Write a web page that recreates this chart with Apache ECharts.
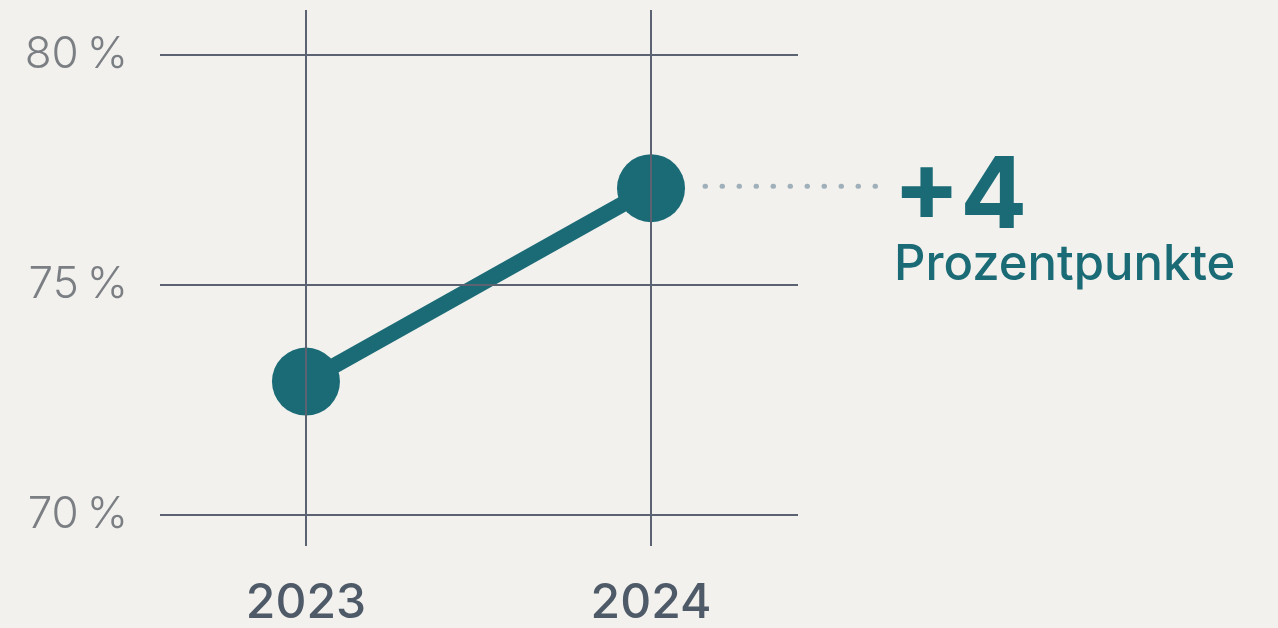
<!DOCTYPE html>
<html>
<head>
<meta charset="utf-8">
<script src="https://cdn.jsdelivr.net/npm/echarts@6/dist/echarts.min.js"></script>
<style>
  html, body { margin: 0; padding: 0; background: #f2f1ed; }
  #chart { width: 1278px; height: 628px; }
</style>
</head>
<body>
<div id="chart"></div>
<script>
// data
const years = [2023, 2024];
const shares = [72.9, 77.1];
const yTicks = [70, 75, 80];
const noteUnit = "Prozentpunkte";

const teal = "#1b6b77";
const gridColor = "#5b6373";
const font = "Inter, 'Noto Sans', sans-serif";

const chart = echarts.init(document.getElementById("chart"));

const points = years.map((y, i) => [y, shares[i]]);

const option = {
  backgroundColor: "#f2f1ed",
  animation: false,
  grid: { left: 160, right: 480, top: 10, bottom: 80 },
  xAxis: {
    type: "value",
    min: 2022.577,
    max: 2024.426,
    axisLine: { show: false },
    axisTick: { show: false },
    splitLine: { show: false },
    axisLabel: {
      customValues: years,
      formatter: (v) => String(v),
      color: "#4f5a68",
      fontFamily: font,
      fontSize: 48,
      fontWeight: 500,
      margin: 34,
    },
  },
  yAxis: {
    type: "value",
    min: 69.33,
    max: 80.97,
    axisLine: { show: false },
    axisTick: { show: false },
    splitLine: { show: false },
    axisLabel: {
      customValues: yTicks,
      formatter: (v) => v + "\u2009%",
      color: "#7b7f84",
      fontFamily: font,
      fontSize: 44,
      fontWeight: 300,
      margin: 32,
    },
  },
  series: [
    {
      // gridlines behind the data
      type: "line",
      data: [],
      z: 1,
      markLine: {
        silent: true,
        symbol: "none",
        label: { show: false },
        lineStyle: { color: gridColor, width: 2, type: "solid" },
        data: yTicks.map((t) => ({ yAxis: t })).concat(years.map((y) => ({ xAxis: y }))),
      },
    },
    {
      type: "line",
      z: 3,
      data: points,
      symbol: "circle",
      symbolSize: 68,
      lineStyle: { color: teal, width: 16 },
      itemStyle: { color: teal },
    },
  ],
};
chart.setOption(option);

// annotation next to the last point
const p = chart.convertToPixel({ seriesIndex: 1 }, points[1]);
const diff = Math.round(shares[1] - shares[0]);
chart.setOption({
  graphic: [
    {
      type: "line",
      shape: { x1: p[0] + 54, y1: p[1] - 2, x2: 880, y2: p[1] - 2 },
      style: { stroke: "#9fb0ba", lineWidth: 5, lineDash: [0.5, 16.5], lineCap: "round" },
    },
    {
      type: "text",
      x: 893,
      y: 198,
      style: {
        text: "+" + diff,
        fill: teal,
        font: "bold 99px " + font,
        textVerticalAlign: "middle",
      },
    },
    {
      type: "text",
      x: 894,
      y: 265,
      style: {
        text: noteUnit,
        fill: teal,
        font: "500 49px " + font,
        textVerticalAlign: "middle",
      },
    },
  ],
});
</script>
</body>
</html>
